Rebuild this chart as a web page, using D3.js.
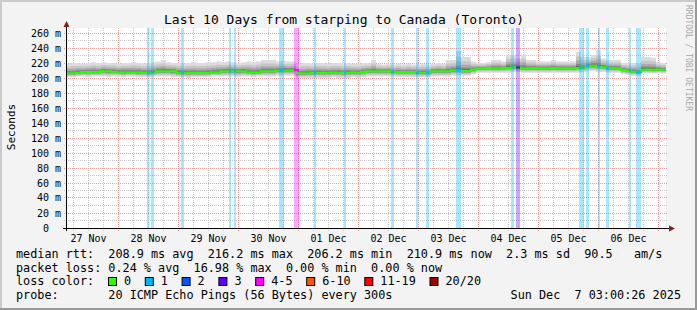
<!DOCTYPE html>
<html><head><meta charset="utf-8">
<script src="https://cdn.jsdelivr.net/npm/d3@7"></script>
<style>
html,body{margin:0;padding:0;background:#f3f3f3}
svg{display:block}
text{font-family:"DejaVu Sans Mono",monospace;white-space:pre}
</style></head><body>
<svg id="chart" width="697" height="310"></svg>
<script>
// ---------------- data ----------------
const title = "Last 10 Days from starping to Canada (Toronto)";
const yAxisTitle = "Seconds";
const watermark = "RRDTOOL / TOBI OETIKER";
const startTime = new Date(2025, 10, 27, 3, 0, 26);
const endTime = new Date(2025, 11, 7, 3, 0, 26);
const stepHours = 2;
const yMax = 800 / 3;

const median = [
  206.2,206.2,207,208,208,208,208,209,209,208.5,
  207.8,207.8,207.8,207.8,207.8,207.5,207,207.5,209,209,
  209,209,207,207,206.7,206.7,206.7,206.7,207,207.8,
  207.8,209,209,209,209,209,207.8,207.8,207.8,209,
  209,209,210,210,210,210.5,206.2,206.2,206.5,206.8,
  207,206.8,207,207.2,207,206.8,207,207.2,207,208,
  209,209,209,209,209,208,208,208,208,208,
  207,207,207,209,209,209,209,210.3,210.3,209.3,
  209.3,211,213,213,213.2,213,213,213.2,213.5,214.2,
  214,213,213,213.2,213,212.8,213,213.2,213,213,
  212.8,213,213.5,214,216,216.2,215,214.5,213,213,
  213,210.7,209.5,208.4,207.6,211,211.3,211,211.5,210.9
];
const smokeHi = [
  219,220,220,219,220,221,220,221,220,220,
  219,220,220,221,220,219,220,221,222,224,
  221,220,220,219,220,221,220,220,221,221,
  222,221,222,221,220,221,222,221,222,224,
  224,224,222,223,222,222,219,220,220,219,
  220,220,219,220,220,219,220,219,219,220,
  220,224,219,218,219,218,219,218,219,218,
  218,219,218,219,220,219,224,224,236,228,
  228,222,220,220,221,224,224,222,231,231,
  226,231,224,224,222,222,222,224,222,222,
  222,222,235,228,228,231,237,226,224,224,
  224,220,220,220,219,228,228,227,221,220
];
const smokeLo = [
  201,201,202,202,201,202,202,202,201,202,
  202,201,202,202,201,201,201,202,202,202,
  202,201,201,201,200,201,201,201,201,202,
  202,202,202,202,201,202,202,201,202,202,
  202,202,203,203,203,203,200,200,200,200,
  200,200,200,201,200,200,200,201,200,201,
  202,202,202,202,202,202,201,201,201,201,
  201,201,201,202,202,202,202,203,203,203,
  203,205,207,207,207,207,207,207,207,208,
  208,207,207,207,207,207,207,207,207,207,
  207,207,207,208,209,209,208,208,207,207,
  207,205,204,203,203,206,206,206,206,206
];
// loss events: hours after start, duration in hours, loss colour index
const lossStart = [32.4,34.0,46.0,65.2,67.2,85.2,91.2,99.2,111.2,130.0,140.0,144.0,156.0,178.0,180.0,205.2,208.0,212.8,216.0,225.2,228.0];
const lossDur   = [1.0,1.2,1.2,0.8,0.8,2.0,2.0,0.8,0.8,1.2,1.0,1.2,2.0,1.2,1.6,2.0,1.2,0.8,1.2,0.8,2.0];
const lossLevel = [1,1,1,1,1,1,4,1,1,1,1,1,1,1,3,1,1,1,1,1,1];

const yTickValues = [0,20,40,60,80,100,120,140,160,180,200,220,240,260];
const yTickLabels = ["0  ","20 m","40 m","60 m","80 m","100 m","120 m","140 m","160 m","180 m","200 m","220 m","240 m","260 m"];
const dayLabels = ["27 Nov","28 Nov","29 Nov","30 Nov","01 Dec","02 Dec","03 Dec","04 Dec","05 Dec","06 Dec"];

const lossLabels = ["0","1","2","3","4-5","6-10","11-19","20/20"];
const lossColors = ["#26ff00","#00b8ff","#0059ff","#5e00ff","#ff00ff","#ff5500","#ff0000","#a10000"];

const legendRtt  = "median rtt:  208.9 ms avg  216.2 ms max  206.2 ms min  210.9 ms now  2.3 ms sd  90.5   am/s";
const legendLoss = "packet loss: 0.24 % avg  16.98 % max  0.00 % min  0.00 % now";
const legendColorTitle = "loss color:";
const legendProbe = "probe:       20 ICMP Echo Pings (56 Bytes) every 300s";
const legendDate = "Sun Dec  7 03:00:26 2025";

// ---------------- drawing ----------------
const W = 697, H = 310;
const svg = d3.select("#chart");
const X0 = 66, X1 = 666, YT = 28, YB = 228;
const x = d3.scaleTime().domain([startTime, endTime]).range([X0, X1]);
const y = d3.scaleLinear().domain([0, yMax]).range([YB, YT]);
const hoursToDate = h => new Date(startTime.getTime() + h * 3600000);

svg.append("rect").attr("width", W).attr("height", H).attr("fill", "#f3f3f3");
// 3D frame
svg.append("rect").attr("x",0).attr("y",0).attr("width",W).attr("height",2).attr("fill","#cbcbcb");
svg.append("rect").attr("x",0).attr("y",0).attr("width",2).attr("height",H).attr("fill","#cbcbcb");
svg.append("rect").attr("x",0).attr("y",H-2).attr("width",W).attr("height",2).attr("fill","#999");
svg.append("rect").attr("x",W-2).attr("y",0).attr("width",2).attr("height",H).attr("fill","#999");

svg.append("rect").attr("x", X0).attr("y", YT).attr("width", X1 - X0).attr("height", YB - YT).attr("fill", "#fff");

const gridMinor = "#c8c8c8", gridMajor = "#f19b9b";
const g = svg.append("g");
// vertical minor (6h)
const minorT = d3.timeHour.every(6).range(startTime, endTime).filter(d => d.getHours() !== 0);
g.selectAll(".vmin").data(minorT).enter().append("line")
  .attr("x1", d => Math.floor(x(d)) + 0.5).attr("x2", d => Math.floor(x(d)) + 0.5)
  .attr("y1", YT).attr("y2", YB + 3).attr("stroke", gridMinor).attr("stroke-dasharray", "1,1");
// horizontal minor (10 m)
const yMinor = d3.range(10, yMax, 10).filter(v => v % 20 !== 0);
g.selectAll(".hmin").data(yMinor).enter().append("line")
  .attr("x1", X0 - 2).attr("x2", X1 + 1)
  .attr("y1", d => Math.floor(y(d)) + 0.5).attr("y2", d => Math.floor(y(d)) + 0.5)
  .attr("stroke", gridMinor).attr("stroke-dasharray", "1,1");
// vertical major (days)
const majorT = d3.timeDay.range(startTime, endTime);
g.selectAll(".vmaj").data(majorT).enter().append("line")
  .attr("x1", d => Math.floor(x(d)) + 0.5).attr("x2", d => Math.floor(x(d)) + 0.5)
  .attr("y1", YT).attr("y2", YB + 3).attr("stroke", gridMajor).attr("stroke-dasharray", "1,1");
// horizontal major
g.selectAll(".hmaj").data(yTickValues.filter(v => v > 0)).enter().append("line")
  .attr("x1", X0 - 2).attr("x2", X1 + 1)
  .attr("y1", d => Math.floor(y(d)) + 0.5).attr("y2", d => Math.floor(y(d)) + 0.5)
  .attr("stroke", gridMajor).attr("stroke-dasharray", "1,1");

// smoke
const pts = median.map((m, i) => ({t: hoursToDate(i * stepHours), m, hi: smokeHi[i], lo: smokeLo[i]}));
pts.push(Object.assign({}, pts[pts.length - 1], {t: endTime}));
const layers = [[1.0, "#dcdcdc"], [0.7, "#c6c6c6"], [0.45, "#aaaaaa"], [0.25, "#888888"], [0.1, "#5a5a5a"]];
layers.forEach(([f, c]) => {
  const area = d3.area().curve(d3.curveStepAfter)
    .x(d => x(d.t))
    .y0(d => y(d.m - f * (d.m - d.lo)))
    .y1(d => y(d.m + f * (d.hi - d.m)));
  svg.append("path").datum(pts).attr("d", area).attr("fill", c);
});

// loss background bands
const losses = lossStart.map((s, i) => ({s, d: lossDur[i], l: lossLevel[i]}));
svg.selectAll(".lossbg").data(losses).enter().append("rect")
  .attr("x", d => x(hoursToDate(d.s)))
  .attr("width", d => x(hoursToDate(d.s + d.d)) - x(hoursToDate(d.s)))
  .attr("y", YT).attr("height", YB - YT)
  .attr("fill", d => lossColors[d.l]).attr("fill-opacity", 0.34);

// median line
const line = d3.line().curve(d3.curveStepAfter).x(d => x(d.t)).y(d => y(d.m));
svg.append("path").datum(pts).attr("d", line).attr("fill", "none")
  .attr("stroke", lossColors[0]).attr("stroke-width", 2);
// median segments coloured by loss
svg.selectAll(".lossmed").data(losses).enter().append("line")
  .attr("x1", d => x(hoursToDate(d.s)))
  .attr("x2", d => x(hoursToDate(d.s + d.d)))
  .attr("y1", d => y(median[Math.min(median.length - 1, Math.floor(d.s / stepHours))]))
  .attr("y2", d => y(median[Math.min(median.length - 1, Math.floor(d.s / stepHours))]))
  .attr("stroke", d => lossColors[d.l]).attr("stroke-width", 2);

// axes
const axisCol = "#000", arrowCol = "#8b1a1a";
svg.append("line").attr("x1", X0 + 0.5).attr("x2", X0 + 0.5).attr("y1", YB + 3).attr("y2", YT - 3).attr("stroke", axisCol);
svg.append("line").attr("x1", X0 - 3).attr("x2", X1 + 4).attr("y1", YB + 0.5).attr("y2", YB + 0.5).attr("stroke", axisCol);
svg.append("path").attr("d", `M${X0 - 2.5},${YT - 1} L${X0 + 3.5},${YT - 1} L${X0 + 0.5},${YT - 7} Z`).attr("fill", arrowCol);
svg.append("path").attr("d", `M${X1 + 3},${YB - 2.5} L${X1 + 3},${YB + 3.5} L${X1 + 9},${YB + 0.5} Z`).attr("fill", arrowCol);

// y labels
svg.selectAll(".ylab").data(yTickValues).enter().append("text")
  .attr("x", 61).attr("y", d => Math.floor(y(d)) + 4)
  .attr("text-anchor", "end").attr("font-size", "10px").attr("fill", "#000")
  .text((d, i) => yTickLabels[i]);
// x labels at noon
svg.selectAll(".xlab").data(dayLabels).enter().append("text")
  .attr("x", (d, i) => x(d3.timeHour.offset(d3.timeDay.offset(d3.timeDay.floor(startTime), i), 12)))
  .attr("y", 242).attr("text-anchor", "middle").attr("font-size", "10px").attr("fill", "#000")
  .text(d => d);

// title
svg.append("text").attr("x", 344).attr("y", 24).attr("text-anchor", "middle")
  .attr("font-size", "13px").attr("fill", "#000").text(title);
// y axis title
svg.append("text").attr("transform", "translate(14.5,127) rotate(-90)")
  .attr("text-anchor", "middle").attr("font-size", "11px").attr("fill", "#000").text(yAxisTitle);
// watermark
svg.append("text").attr("transform", "translate(686,5) rotate(90)")
  .attr("font-size", "8px").attr("fill", "#a8a8a8").text(watermark);

// legend
const LF = "11.8px", LX = 16;
svg.append("text").attr("x", LX).attr("y", 258).attr("font-size", LF).text(legendRtt);
svg.append("text").attr("x", LX).attr("y", 271.5).attr("font-size", LF).text(legendLoss);
svg.append("text").attr("x", LX).attr("y", 285).attr("font-size", LF).text(legendColorTitle);
svg.append("text").attr("x", LX).attr("y", 298.5).attr("font-size", LF).text(legendProbe);
svg.append("text").attr("x", 681).attr("y", 298.5).attr("text-anchor", "end").attr("font-size", LF).text(legendDate);
const cw = 7.1;
let lx = 108.5;
lossLabels.forEach((lab, i) => {
  svg.append("rect").attr("x", lx).attr("y", 277.5).attr("width", 8).attr("height", 8)
    .attr("fill", lossColors[i]).attr("stroke", "#000").attr("stroke-width", 1);
  svg.append("text").attr("x", lx + 15.5).attr("y", 285).attr("font-size", LF).text(lab);
  lx = lx + 15.5 + lab.length * cw + 2 * cw;
});
</script>
</body></html>
